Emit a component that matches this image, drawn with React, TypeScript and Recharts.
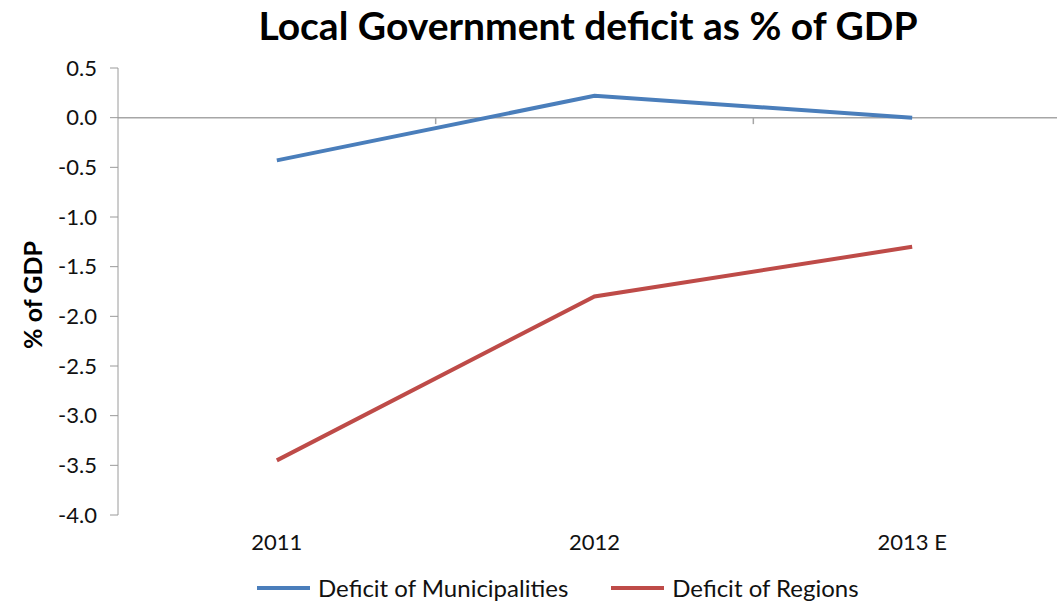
import {
  LineChart,
  Line,
  XAxis,
  YAxis,
  ReferenceLine,
  Legend,
} from 'recharts'

const categories = ['2011', '2012', '2013 E']
const municipalities = [-0.43, 0.22, 0.0]
const regions = [-3.45, -1.8, -1.3]
const yTicks = [0.5, 0.0, -0.5, -1.0, -1.5, -2.0, -2.5, -3.0, -3.5, -4.0]
const boundaries = [0.5, 1.5]

const data = categories.map((c, i) => ({
  i,
  name: c,
  municipalities: municipalities[i],
  regions: regions[i],
}))

const font = 'Lato, "Open Sans", sans-serif'

const legendItems = [
  { label: 'Deficit of Municipalities', color: '#4a7ebb' },
  { label: 'Deficit of Regions', color: '#be4b48' },
]

function ChartLegend() {
  return (
    <div
      style={{
        display: 'flex',
        alignItems: 'center',
        paddingLeft: 257,
        paddingTop: 21,
        fontFamily: font,
        fontSize: 24,
        lineHeight: 1,
        color: '#111',
      }}
    >
      {legendItems.map((it) => (
        <div key={it.label} style={{ display: 'flex', alignItems: 'center', marginRight: 43 }}>
          <span
            style={{
              display: 'inline-block',
              width: 53,
              height: 4,
              background: it.color,
              marginRight: 8,
            }}
          />
          <span>{it.label}</span>
        </div>
      ))}
    </div>
  )
}

export default function App() {
  return (
    <div
      style={{
        position: 'absolute',
        left: 0,
        top: 0,
        width: 1057,
        height: 602,
        overflow: 'hidden',
        background: '#fff',
      }}
    >
      <div
        style={{
          position: 'absolute',
          left: 0,
          width: 1176,
          top: 2,
          textAlign: 'center',
          fontFamily: font,
          fontWeight: 700,
          fontSize: 39,
          color: '#000',
        }}
      >
        Local Government deficit as % of GDP
      </div>
      <div
        style={{
          position: 'absolute',
          left: 32,
          top: 295,
          transform: 'translate(-50%, -50%) rotate(-90deg)',
          whiteSpace: 'nowrap',
          fontFamily: font,
          fontWeight: 700,
          fontSize: 25,
          color: '#000',
        }}
      >
        % of GDP
      </div>
      <LineChart
        width={1071}
        height={602}
        data={data}
        margin={{ top: 68, right: 0, bottom: 0, left: 0 }}
      >
        <XAxis
          dataKey="i"
          type="number"
          domain={[-0.5, 2.5]}
          ticks={[0, 1, 2]}
          tickFormatter={(v) => categories[v]}
          axisLine={false}
          tickLine={false}
          height={40}
          tickMargin={13}
          tick={{ fill: '#111', fontSize: 22, fontFamily: font }}
        />
        <YAxis
          domain={[-4, 0.5]}
          ticks={yTicks}
          tickFormatter={(v) => v.toFixed(1)}
          width={118}
          interval={0}
          stroke="#9a9a9a"
          tickSize={8}
          tickMargin={13}
          tick={{ fill: '#111', fontSize: 22, fontFamily: font }}
        />
        <ReferenceLine y={0} stroke="#a6a6a6" strokeWidth={1.5} />
        {boundaries.map((b) => (
          <ReferenceLine
            key={b}
            segment={[
              { x: b, y: 0 },
              { x: b, y: -0.065 },
            ]}
            stroke="#a6a6a6"
            strokeWidth={1.5}
          />
        ))}
        <Line
          dataKey="municipalities"
          stroke="#4a7ebb"
          strokeWidth={4}
          dot={false}
          isAnimationActive={false}
        />
        <Line
          dataKey="regions"
          stroke="#be4b48"
          strokeWidth={4}
          dot={false}
          isAnimationActive={false}
        />
        <Legend verticalAlign="bottom" height={47} content={() => <ChartLegend />} />
      </LineChart>
    </div>
  )
}
